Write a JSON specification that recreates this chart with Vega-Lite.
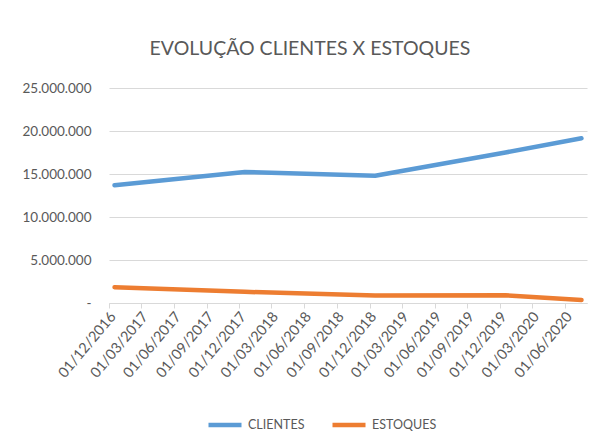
{
  "$schema": "https://vega.github.io/schema/vega-lite/v6.json",
  "width": 478,
  "height": 215,
  "autosize": {"type": "none"},
  "padding": {"left": 109, "top": 88, "right": 17, "bottom": 142},
  "background": "white",
  "config": {
    "view": {"stroke": null},
    "locale": {"number": {"decimal": ",", "thousands": ".", "grouping": [3], "currency": ["R$", ""]}},
    "font": "Lato"
  },
  "title": {
    "text": "EVOLUÇÃO CLIENTES X ESTOQUES",
    "font": "Lato",
    "fontSize": 19.5,
    "fontWeight": "normal",
    "color": "#595959",
    "anchor": "middle",
    "frame": "group",
    "dx": -38,
    "offset": 22
  },
  "data": {
    "values": [
      {"data": "2016-12-01", "serie": "CLIENTES", "valor": 13700000},
      {"data": "2017-12-01", "serie": "CLIENTES", "valor": 15230000},
      {"data": "2018-12-01", "serie": "CLIENTES", "valor": 14790000},
      {"data": "2019-12-01", "serie": "CLIENTES", "valor": 17500000},
      {"data": "2020-07-01", "serie": "CLIENTES", "valor": 19150000},
      {"data": "2016-12-01", "serie": "ESTOQUES", "valor": 1830000},
      {"data": "2017-12-01", "serie": "ESTOQUES", "valor": 1300000},
      {"data": "2018-12-01", "serie": "ESTOQUES", "valor": 880000},
      {"data": "2019-12-01", "serie": "ESTOQUES", "valor": 900000},
      {"data": "2020-07-01", "serie": "ESTOQUES", "valor": 350000}
    ]
  },
  "mark": {"type": "line", "strokeWidth": 4.5, "strokeCap": "round", "strokeJoin": "round"},
  "encoding": {
    "x": {
      "field": "data",
      "type": "temporal",
      "timeUnit": "yearmonth",
      "bandPosition": 0.5,
      "scale": {"domain": [{"year": 2016, "month": 12, "date": 1}, {"year": 2020, "month": 8, "date": 1}], "nice": false},
      "axis": {
        "title": null,
        "grid": false,
        "values": [
          {"year": 2016, "month": 12, "date": 1},
          {"year": 2017, "month": 3, "date": 1},
          {"year": 2017, "month": 6, "date": 1},
          {"year": 2017, "month": 9, "date": 1},
          {"year": 2017, "month": 12, "date": 1},
          {"year": 2018, "month": 3, "date": 1},
          {"year": 2018, "month": 6, "date": 1},
          {"year": 2018, "month": 9, "date": 1},
          {"year": 2018, "month": 12, "date": 1},
          {"year": 2019, "month": 3, "date": 1},
          {"year": 2019, "month": 6, "date": 1},
          {"year": 2019, "month": 9, "date": 1},
          {"year": 2019, "month": 12, "date": 1},
          {"year": 2020, "month": 3, "date": 1},
          {"year": 2020, "month": 6, "date": 1}
        ],
        "format": "%d/%m/%Y",
        "labelAngle": -50,
        "labelAlign": "right",
        "labelBaseline": "middle",
        "labelFont": "Lato",
        "labelFontSize": 14.5,
        "labelColor": "#595959",
        "labelPadding": 6,
        "labelOffset": 4,
        "labelOverlap": false,
        "labelFlush": false,
        "labelBound": false,
        "domainColor": "#d9d9d9",
        "domainWidth": 1,
        "tickColor": "#d9d9d9",
        "tickSize": 5
      }
    },
    "y": {
      "field": "valor",
      "type": "quantitative",
      "scale": {"domain": [0, 25000000], "nice": false},
      "axis": {
        "title": null,
        "values": [0, 5000000, 10000000, 15000000, 20000000, 25000000],
        "format": ",.0f",
        "labelExpr": "datum.value === 0 ? '-\u00a0\u00a0' : datum.label",
        "labelFont": "Lato",
        "labelFontSize": 13.5,
        "labelColor": "#595959",
        "labelPadding": 18,
        "domain": false,
        "ticks": false,
        "gridColor": "#d9d9d9",
        "gridWidth": 1
      }
    },
    "color": {
      "field": "serie",
      "type": "nominal",
      "scale": {"domain": ["CLIENTES", "ESTOQUES"], "range": ["#5B9BD5", "#ED7D31"]},
      "legend": {
        "title": null,
        "orient": "none",
        "direction": "horizontal",
        "legendX": 97,
        "legendY": 318,
        "symbolType": "stroke",
        "symbolSize": 1089,
        "symbolStrokeWidth": 4.5,
        "labelFont": "Lato",
        "labelFontSize": 12.5,
        "labelColor": "#595959",
        "labelOffset": 4,
        "columnPadding": 18
      }
    }
  }
}
